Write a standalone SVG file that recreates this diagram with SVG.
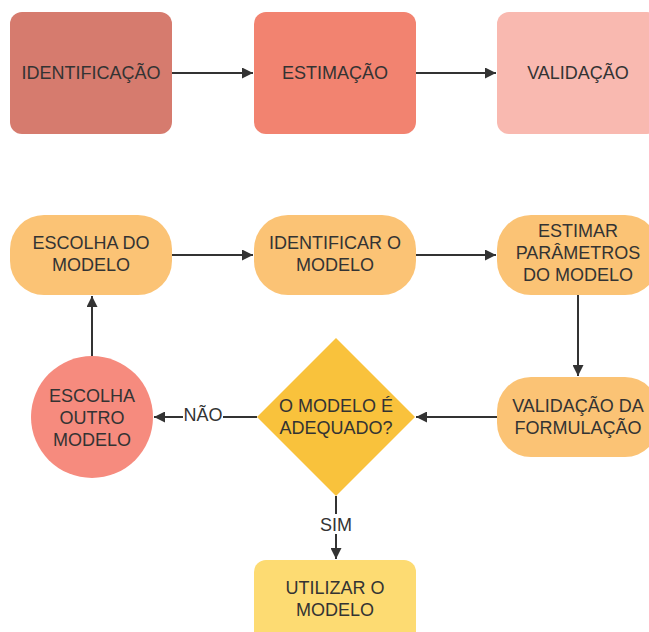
<svg xmlns="http://www.w3.org/2000/svg" width="649" height="632" viewBox="0 0 649 632">
<defs>
<marker id="ah" viewBox="0 0 10 10" refX="10" refY="5" markerWidth="11" markerHeight="11" markerUnits="userSpaceOnUse" orient="auto">
<path d="M0,0 L10,5 L0,10 z" fill="#333"/>
</marker>
</defs>
<style>
text{font-family:"Liberation Sans",Arial,sans-serif;font-size:18px;fill:#333;text-anchor:middle}
.c{stroke:#333;stroke-width:2;fill:none;marker-end:url(#ah)}
</style>
<rect width="649" height="632" fill="#fff"/>
<g id="n-identificacao"><rect x="10" y="12" width="162" height="122" rx="12" fill="#d67b6e"/><text x="91" y="78.5">IDENTIFICAÇÃO</text></g>
<g id="n-estimacao"><rect x="254" y="12" width="162" height="122" rx="12" fill="#f28370"/><text x="335" y="78.5">ESTIMAÇÃO</text></g>
<g id="n-validacao"><rect x="497" y="12" width="162" height="122" rx="12" fill="#f9b9b0"/><text x="578" y="78.5">VALIDAÇÃO</text></g>
<g id="n-escolha"><rect x="10" y="215" width="162" height="80" rx="34" fill="#fbc375"/><text x="91" y="248.5">ESCOLHA DO</text><text x="91" y="270.5">MODELO</text></g>
<g id="n-identificar"><rect x="254" y="215" width="162" height="80" rx="34" fill="#fbc375"/><text x="335" y="248.5">IDENTIFICAR O</text><text x="335" y="270.5">MODELO</text></g>
<g id="n-estimar"><rect x="497" y="215" width="162" height="80" rx="34" fill="#fbc375"/><text x="578" y="236.5">ESTIMAR</text><text x="578" y="258.5">PARÂMETROS</text><text x="578" y="280.5">DO MODELO</text></g>
<g id="n-validacaof"><rect x="497" y="377" width="162" height="80" rx="34" fill="#fbc375"/><text x="578" y="411.5">VALIDAÇÃO DA</text><text x="578" y="433.5">FORMULAÇÃO</text></g>
<g id="n-decisao"><polygon points="336,338 415,417 336,496 257,417" fill="#f9c23c"/><text x="336" y="411.5">O MODELO É</text><text x="336" y="433.5">ADEQUADO?</text></g>
<g id="n-outro"><circle cx="92" cy="417" r="61" fill="#f68b7e"/><text x="92" y="401.5">ESCOLHA</text><text x="92" y="423.5">OUTRO</text><text x="92" y="445.5">MODELO</text></g>
<g id="n-utilizar"><rect x="254" y="560" width="162" height="90" rx="12" fill="#fddb72"/><text x="335" y="593.5">UTILIZAR O</text><text x="335" y="615.5">MODELO</text></g>
<g id="connectors">
<line class="c" x1="172" y1="73" x2="253" y2="73"/>
<line class="c" x1="416" y1="73" x2="496" y2="73"/>
<line class="c" x1="172" y1="255" x2="253" y2="255"/>
<line class="c" x1="416" y1="255" x2="496" y2="255"/>
<line class="c" x1="578" y1="295" x2="578" y2="376"/>
<line class="c" x1="497" y1="417" x2="416" y2="417"/>
<line class="c" x1="257" y1="417" x2="154" y2="417"/>
<line class="c" x1="92" y1="356" x2="92" y2="296"/>
<line class="c" x1="336" y1="496" x2="336" y2="559"/>
<rect x="183" y="406" width="40" height="20" fill="#fff"/>
<text x="203" y="420.5">NÃO</text>
<rect x="318" y="514" width="36" height="20" fill="#fff"/>
<text x="336" y="530.5">SIM</text>
</g>
</svg>
